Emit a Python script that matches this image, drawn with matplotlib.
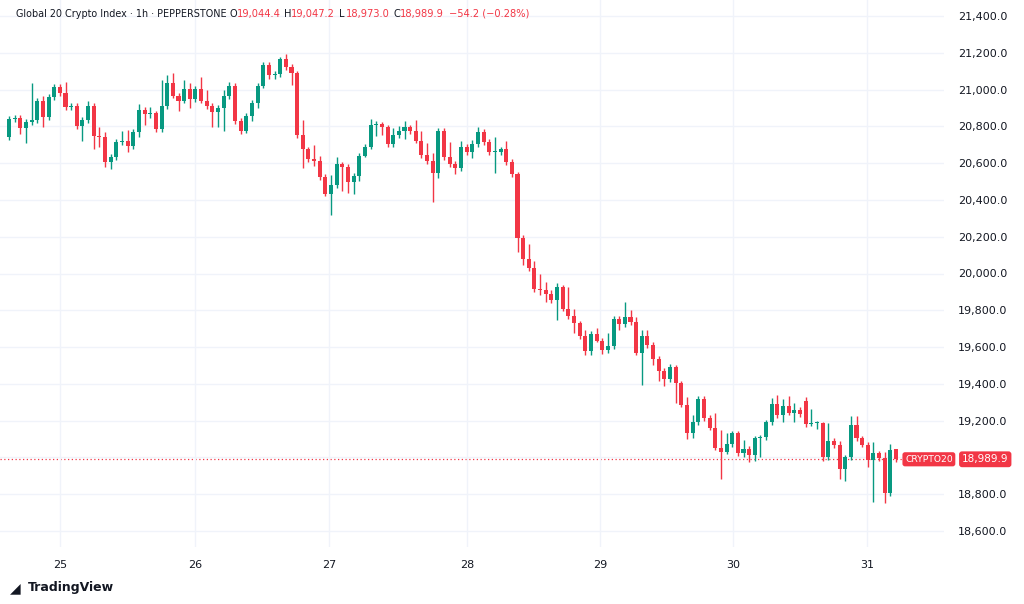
import matplotlib
matplotlib.use("Agg")
import matplotlib.pyplot as plt
import numpy as np

closes = [20840,20846,20790,20825,20835,20940,20852,20961,21016,20980,
          20905,20912,20803,20835,20910,20750,20740,20608,20635,20715,
          20720,20693,20770,20889,20867,20870,20786,20910,21037,20967,
          20940,21005,20950,21005,20940,20912,20878,20900,20965,21021,
          20829,20776,20856,20927,21021,21132,21081,21083,21166,21123,
          21092,20753,20675,20622,20613,20524,20432,20481,20595,20580,
          20500,20530,20640,20690,20806,20811,20795,20704,20753,20775,
          20795,20776,20722,20644,20613,20545,20775,20632,20595,20574,
          20690,20659,20704,20770,20715,20659,20660,20675,20606,20541,
          20195,20077,20028,19916,19910,19888,19856,19927,19807,19770,
          19729,19660,19577,19671,19635,19584,19606,19754,19725,19765,
          19736,19570,19660,19611,19537,19471,19425,19490,19403,19285,
          19131,19194,19318,19213,19162,19053,19031,19071,19135,19022,
          19045,19013,19104,19110,19190,19290,19230,19280,19243,19258,
          19234,19182,19185,19185,19000,19089,19067,18935,19000,19176,
          19104,19067,18986,19022,18995,18805,19040,18989.9]
opens = [20742,20840,20846,20790,20825,20835,20940,20852,20961,21016,
         20980,20905,20912,20803,20835,20910,20750,20740,20608,20635,
         20715,20720,20693,20770,20889,20867,20870,20786,20910,21037,
         20967,20940,21005,20950,21005,20940,20912,20878,20900,20965,
         21021,20829,20776,20856,20927,21021,21132,21081,21083,21166,
         21123,21092,20753,20675,20622,20613,20524,20432,20481,20595,
         20580,20500,20530,20640,20690,20806,20811,20795,20704,20753,
         20775,20795,20776,20722,20644,20613,20545,20775,20632,20595,
         20574,20690,20659,20704,20770,20715,20659,20660,20675,20606,
         20541,20195,20077,20028,19916,19910,19888,19856,19927,19807,
         19770,19729,19660,19577,19671,19635,19584,19606,19754,19725,
         19765,19736,19570,19660,19611,19537,19471,19425,19490,19403,
         19285,19131,19194,19318,19213,19162,19053,19031,19071,19135,
         19022,19045,19013,19104,19110,19190,19290,19230,19280,19243,
         19258,19307,19182,19185,19185,19000,19089,19067,18935,19000,
         19176,19104,19067,18986,19022,18995,18805,19044.4]
wick_up = [15,15,15,15,200,15,27,15,15,15,60,15,15,15,28,15,46,30,15,15,
           55,60,16,33,15,35,15,140,44,53,15,47,31,15,63,60,15,15,35,20,
           15,15,15,15,15,20,20,17,13,27,15,10,82,15,75,27,15,54,40,10,
           15,15,15,15,34,20,15,15,40,25,36,10,60,53,65,44,15,15,85,15,
           32,15,22,27,15,15,84,15,47,15,10,15,83,40,81,45,22,21,10,120,
           37,15,33,15,33,15,70,15,15,80,37,29,33,33,15,15,15,18,15,10,
           45,36,15,15,15,79,96,64,10,10,50,15,15,12,15,31,49,38,53,38,
           15,23,78,15,10,98,15,25,15,49,49,15,15,64,15,36,33,3]
wick_dn = [15,15,30,80,15,15,55,15,15,15,15,15,17,80,15,73,50,28,40,18,
           15,31,15,26,60,20,15,15,15,15,55,15,49,15,15,15,80,82,125,15,
           15,18,10,27,27,15,24,23,15,15,67,15,100,14,27,15,10,114,15,130,
           62,68,25,5,15,58,42,15,15,15,45,15,15,15,15,156,25,15,15,33,
           15,15,30,15,15,15,113,15,15,15,77,31,15,15,27,42,15,109,10,15,
           53,15,20,20,10,22,15,15,32,15,15,15,174,16,34,55,35,15,106,9,
           31,24,15,15,15,15,148,15,15,15,20,36,34,100,15,15,15,36,15,50,
           15,15,9,31,20,15,15,52,63,15,15,10,36,228,15,52,15,17]
day_labels = ["25", "26", "27", "28", "29", "30", "31"]
y_ticks = [18600, 18800, 19000, 19200, 19400, 19600, 19800, 20000, 20200,
           20400, 20600, 20800, 21000, 21200, 21400]
last_price = 18989.9

GREEN = "#089981"
RED = "#f23645"

fig = plt.figure(figsize=(10.24, 6.04), dpi=100)
ax = fig.add_axes([0, 1 - 547/604, 944/1024, 547/604])

o = np.array(opens, float)
c = np.array(closes, float)
hi = np.maximum(o, c) + np.array(wick_up)
lo = np.minimum(o, c) - np.array(wick_dn)
x = np.arange(len(c))
cols = [GREEN if cc >= oo else RED for oo, cc in zip(o, c)]

ax.vlines(x, lo, hi, colors=cols, linewidth=1, zorder=2)
body_h = np.maximum(np.abs(c - o), 6)
ax.bar(x, body_h, bottom=np.minimum(o, c), width=0.72, color=cols, zorder=3, linewidth=0)

step = 5.65
ax.set_xlim(-9/step, (944-9)/step)
ymin, ymax = 21400 - 531 * 2800/515, 21400 + 16 * 2800/515
ax.set_ylim(ymin, ymax)

day_pos = [(px_ - 9)/step for px_ in (60, 195, 329, 467, 600, 733, 867)]
ax.set_xticks(day_pos)
ax.set_xticklabels(day_labels, fontsize=8, color="#131722")
ax.set_yticks(y_ticks)
ax.yaxis.tick_right()
# the 19,000.0 label is hidden behind the last-price tag in the reference
ax.set_yticklabels(["" if abs(v - last_price) < 60 else f"{v:,.1f}" for v in y_ticks],
                   fontsize=8, color="#131722")
ax.tick_params(axis="both", length=0, pad=9)
ax.tick_params(axis="y", pad=10)
ax.grid(True, color="#f0f3fa", linewidth=1, zorder=0)
for s in ["top", "left", "right", "bottom"]:
    ax.spines[s].set_visible(False)

ax.axhline(last_price, color=RED, linestyle=(0, (1, 2)), linewidth=0.9, zorder=1)
yfrac = (last_price - ymin) / (ymax - ymin)
ax.text(905/944, yfrac, "CRYPTO20", transform=ax.transAxes, fontsize=6.6, color="white",
        va="center", ha="left", bbox=dict(boxstyle="round,pad=0.28", fc=RED, ec="none"),
        clip_on=False, zorder=5)
ax.text(962/944, yfrac, f"{last_price:,.1f}", transform=ax.transAxes, fontsize=7.5,
        color="white", va="center", ha="left",
        bbox=dict(boxstyle="round,pad=0.28", fc=RED, ec="none"), clip_on=False, zorder=5)

def px(xp, yp):
    return xp / 1024, 1 - yp / 604

fig.text(*px(16, 14), "Global 20 Crypto Index · 1h · PEPPERSTONE", fontsize=6.9,
         color="#131722", va="center")
parts = [(230, "O", "19,044.4"), (284, "H", "19,047.2"), (339, "L", "18,973.0"),
         (393, "C", "18,989.9")]
for xp, lab, val in parts:
    fig.text(*px(xp, 14), lab, fontsize=7.1, color="#131722", va="center")
    fig.text(*px(xp + 7, 14), val, fontsize=7.1, color=RED, va="center")
fig.text(*px(449, 14), "−54.2 (−0.28%)", fontsize=7.1, color=RED, va="center")
fig.text(*px(10, 588), "◢", fontsize=10, color="#131722", va="center")
fig.text(*px(28, 588), "TradingView", fontsize=9, color="#131722", va="center",
         fontweight="bold")

fig.savefig("out.png", dpi=100)
